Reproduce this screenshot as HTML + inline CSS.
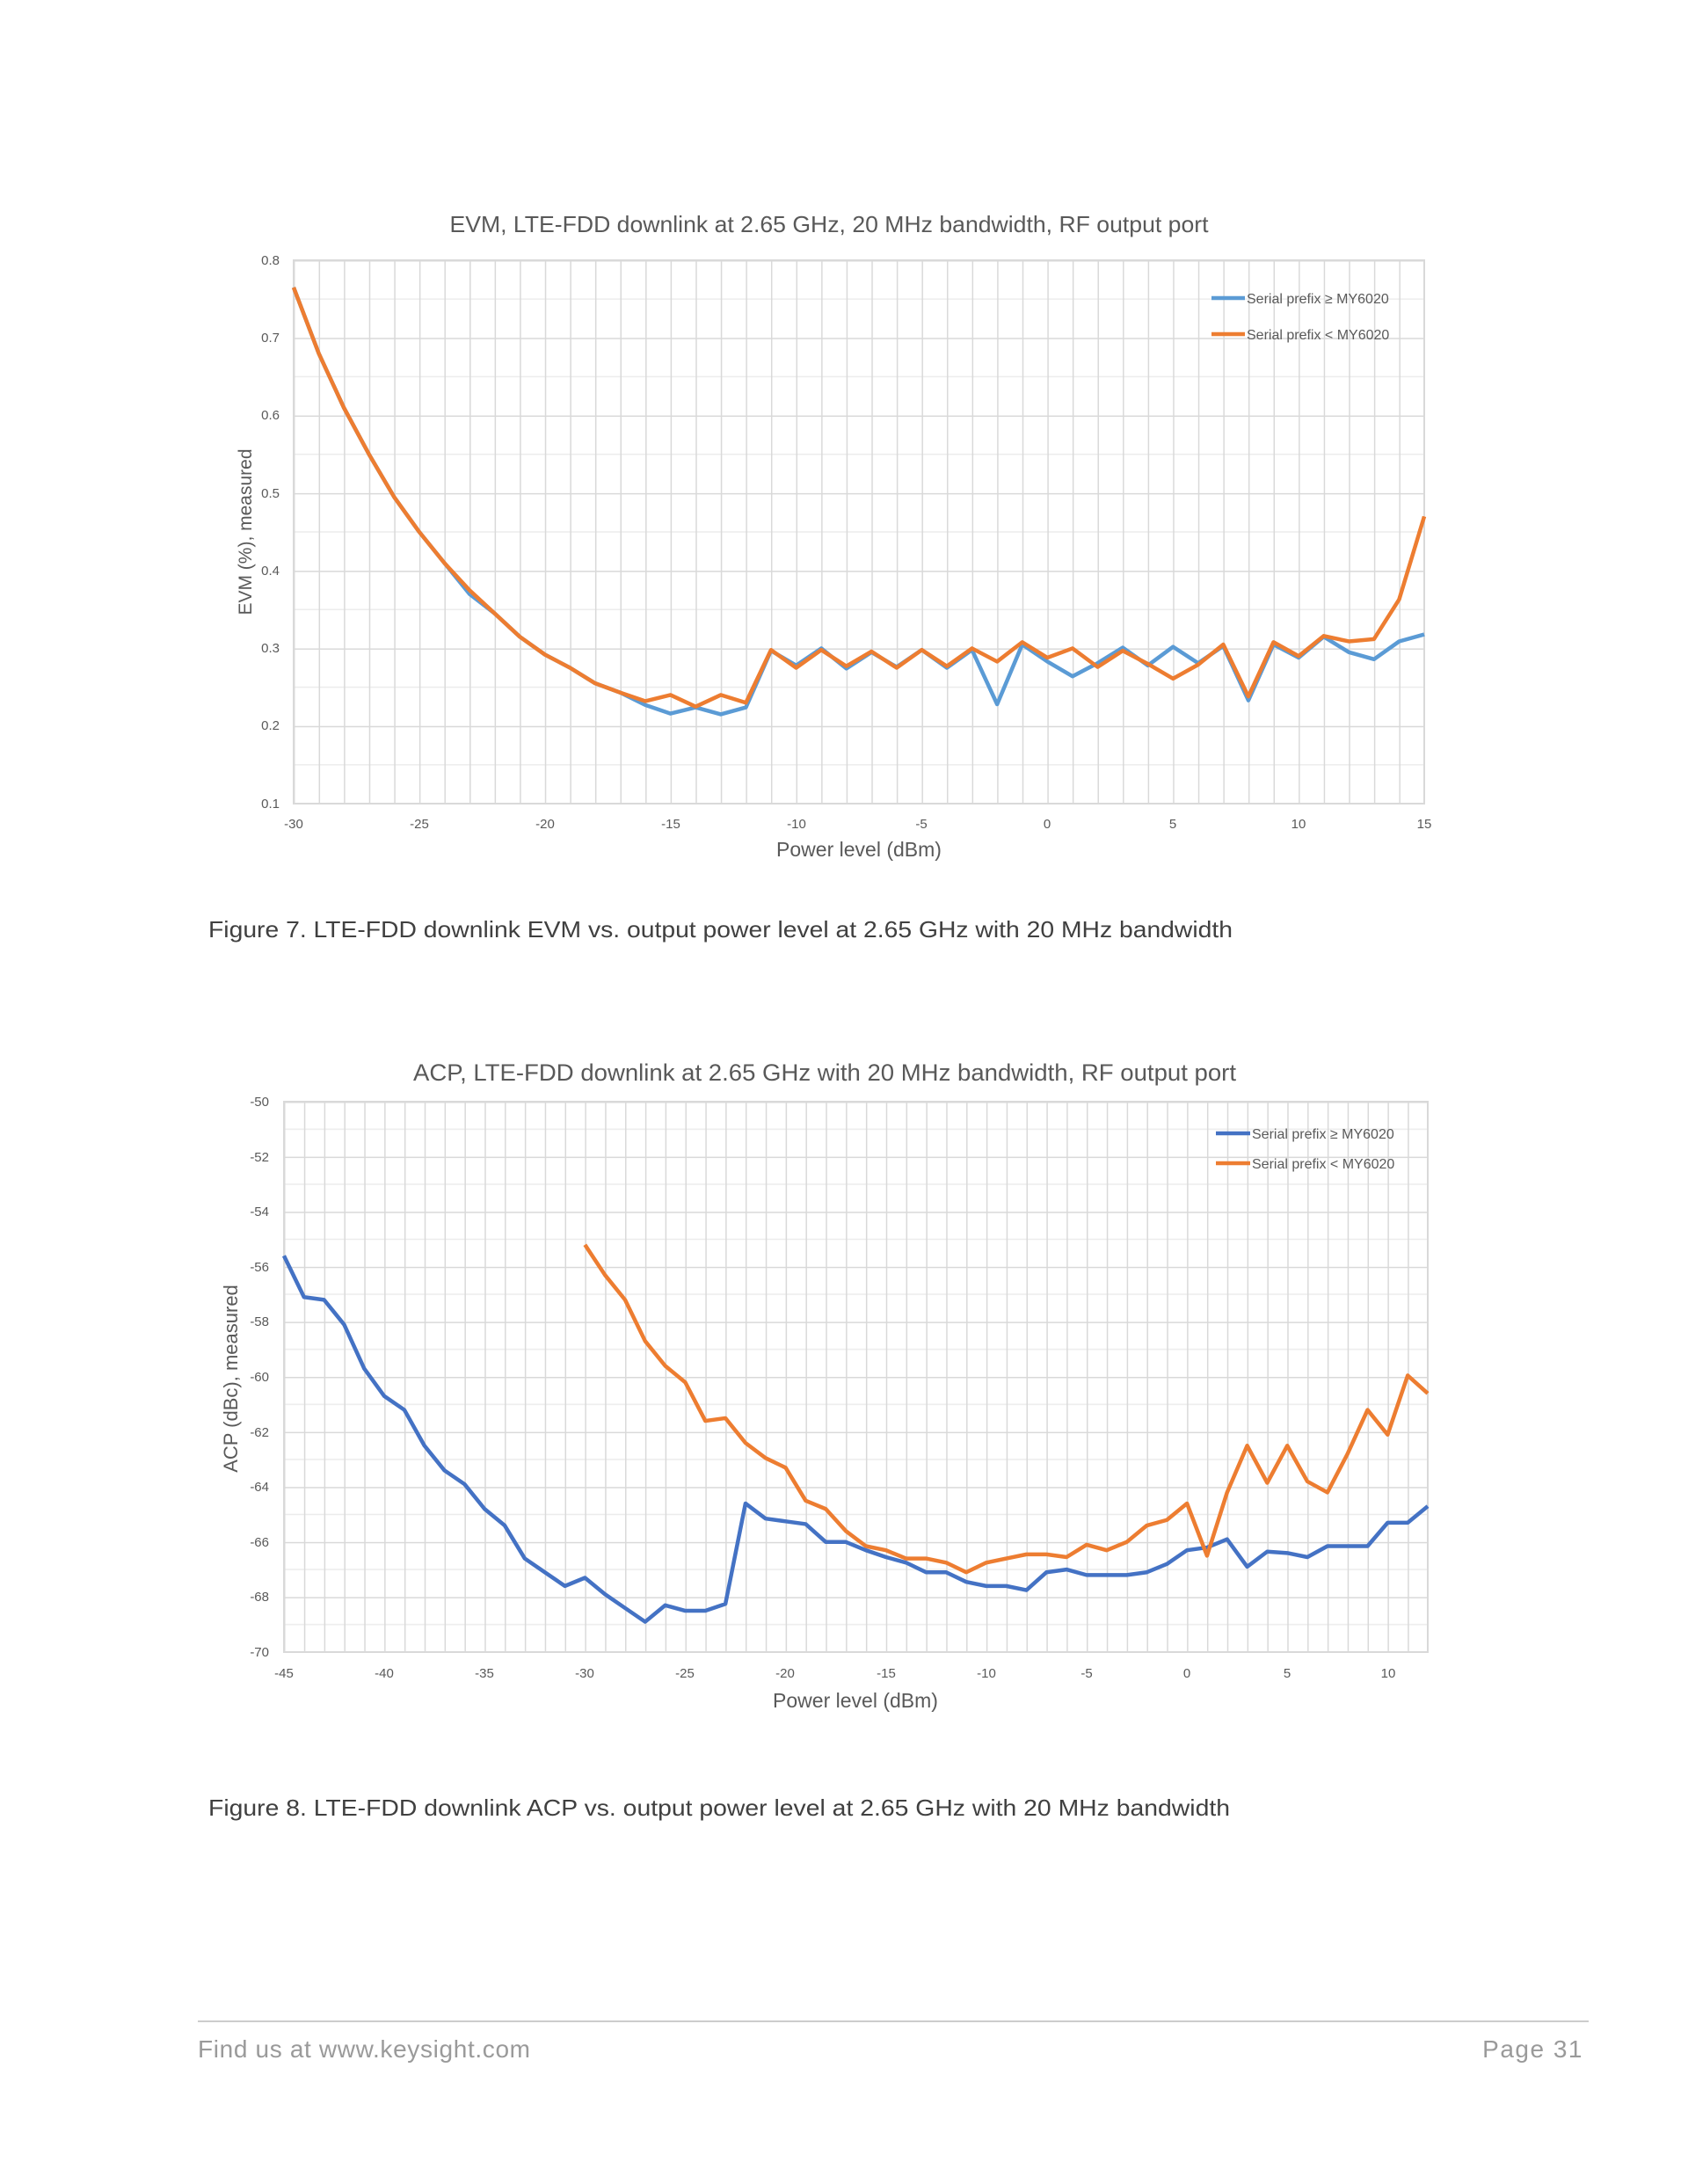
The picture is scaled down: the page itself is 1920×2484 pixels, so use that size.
<!DOCTYPE html>
<html><head><meta charset="utf-8"><style>
html,body{margin:0;padding:0;background:#fff;}
svg{display:block;}
text{font-family:"Liberation Sans",Arial,sans-serif;}
</style></head><body>
<svg width="1920" height="2484" viewBox="0 0 1920 2484" xmlns="http://www.w3.org/2000/svg">
<defs>
<pattern id="g1" patternUnits="userSpaceOnUse" x="334" y="296" width="28.578" height="88.286">
<line x1="0" y1="44.143" x2="28.578" y2="44.143" stroke="#ececec" stroke-width="1.5"/>
<line x1="0" y1="0" x2="28.578" y2="0" stroke="#d9d9d9" stroke-width="3"/>
<line x1="0" y1="0" x2="0" y2="88.286" stroke="#d9d9d9" stroke-width="3"/>
</pattern>
<pattern id="g2" patternUnits="userSpaceOnUse" x="323" y="1253" width="22.825" height="62.6">
<line x1="0" y1="31.3" x2="22.825" y2="31.3" stroke="#ececec" stroke-width="1.5"/>
<line x1="0" y1="0" x2="22.825" y2="0" stroke="#d9d9d9" stroke-width="3"/>
<line x1="0" y1="0" x2="0" y2="62.6" stroke="#d9d9d9" stroke-width="3"/>
</pattern>
</defs>

<!-- EVM chart -->
<text x="943" y="264" font-size="26" fill="#595959" text-anchor="middle" textLength="863" lengthAdjust="spacingAndGlyphs">EVM, LTE-FDD downlink at 2.65 GHz, 20 MHz bandwidth, RF output port</text>
<rect x="334" y="296" width="1286" height="618" fill="url(#g1)" stroke="#d9d9d9" stroke-width="2"/>
<g font-size="15" fill="#595959" text-anchor="end">
<text x="318" y="301">0.8</text><text x="318" y="389">0.7</text><text x="318" y="477">0.6</text><text x="318" y="566">0.5</text><text x="318" y="654">0.4</text><text x="318" y="742">0.3</text><text x="318" y="830">0.2</text><text x="318" y="919">0.1</text>
</g>
<g font-size="15" fill="#595959" text-anchor="middle">
<text x="334" y="942">-30</text><text x="477" y="942">-25</text><text x="620" y="942">-20</text><text x="763" y="942">-15</text><text x="906" y="942">-10</text><text x="1048" y="942">-5</text><text x="1191" y="942">0</text><text x="1334" y="942">5</text><text x="1477" y="942">10</text><text x="1620" y="942">15</text>
</g>
<text x="977" y="974" font-size="23" fill="#595959" text-anchor="middle">Power level (dBm)</text>
<text transform="translate(286,605) rotate(-90)" font-size="21" fill="#595959" text-anchor="middle">EVM (%), measured</text>
<g transform="matrix(28.578,0,0,-882.857,1191.34,1002.29)" fill="none" stroke-linejoin="round">
<polyline vector-effect="non-scaling-stroke" stroke="#5b9bd5" stroke-width="4.5" points="-30,0.765 -29,0.68 -28,0.61 -27,0.55 -26,0.495 -25,0.45 -24,0.41 -23,0.37 -22,0.345 -21,0.315 -20,0.292 -19,0.275 -18,0.255 -17,0.243 -16,0.227 -15,0.216 -14,0.224 -13,0.215 -12,0.224 -11,0.297 -10,0.278 -9,0.3 -8,0.274 -7,0.295 -6,0.276 -5,0.298 -4,0.275 -3,0.298 -2,0.228 -1,0.305 0,0.283 1,0.264 2,0.281 3,0.301 4,0.278 5,0.302 6,0.281 7,0.303 8,0.233 9,0.305 10,0.288 11,0.315 12,0.295 13,0.286 14,0.309 15,0.318"/>
<polyline vector-effect="non-scaling-stroke" stroke="#ed7d31" stroke-width="4.5" points="-30,0.765 -29,0.68 -28,0.61 -27,0.55 -26,0.495 -25,0.45 -24,0.41 -23,0.375 -22,0.345 -21,0.315 -20,0.292 -19,0.275 -18,0.255 -17,0.243 -16,0.232 -15,0.24 -14,0.225 -13,0.24 -12,0.23 -11,0.298 -10,0.275 -9,0.298 -8,0.277 -7,0.296 -6,0.275 -5,0.298 -4,0.277 -3,0.3 -2,0.283 -1,0.308 0,0.288 1,0.3 2,0.276 3,0.297 4,0.28 5,0.261 6,0.279 7,0.305 8,0.238 9,0.308 10,0.29 11,0.316 12,0.309 13,0.312 14,0.363 15,0.47"/>
</g>
<line x1="1378" y1="339" x2="1416" y2="339" stroke="#5b9bd5" stroke-width="4.5"/>
<line x1="1378" y1="380" x2="1416" y2="380" stroke="#ed7d31" stroke-width="4.5"/>
<text x="1418" y="345" font-size="16" fill="#595959">Serial prefix ≥ MY6020</text>
<text x="1418" y="386" font-size="16" fill="#595959">Serial prefix &lt; MY6020</text>

<text x="237" y="1066" font-size="26" fill="#404040" textLength="1165" lengthAdjust="spacingAndGlyphs">Figure 7. LTE-FDD downlink EVM vs. output power level at 2.65 GHz with 20 MHz bandwidth</text>

<!-- ACP chart -->
<text x="938" y="1229" font-size="27" fill="#595959" text-anchor="middle" textLength="936" lengthAdjust="spacingAndGlyphs">ACP, LTE-FDD downlink at 2.65 GHz with 20 MHz bandwidth, RF output port</text>
<rect x="323" y="1253" width="1301" height="626" fill="url(#g2)" stroke="#d9d9d9" stroke-width="2"/>
<g font-size="15" fill="#595959" text-anchor="end">
<text x="306" y="1258">-50</text><text x="306" y="1321">-52</text><text x="306" y="1383">-54</text><text x="306" y="1446">-56</text><text x="306" y="1508">-58</text><text x="306" y="1571">-60</text><text x="306" y="1634">-62</text><text x="306" y="1696">-64</text><text x="306" y="1759">-66</text><text x="306" y="1821">-68</text><text x="306" y="1884">-70</text>
</g>
<g font-size="15" fill="#595959" text-anchor="middle">
<text x="323" y="1908">-45</text><text x="437" y="1908">-40</text><text x="551" y="1908">-35</text><text x="665" y="1908">-30</text><text x="779" y="1908">-25</text><text x="893" y="1908">-20</text><text x="1008" y="1908">-15</text><text x="1122" y="1908">-10</text><text x="1236" y="1908">-5</text><text x="1350" y="1908">0</text><text x="1464" y="1908">5</text><text x="1579" y="1908">10</text>
</g>
<text x="973" y="1942" font-size="23" fill="#595959" text-anchor="middle">Power level (dBm)</text>
<text transform="translate(270,1568) rotate(-90)" font-size="22" fill="#595959" text-anchor="middle">ACP (dBc), measured</text>
<g transform="matrix(22.825,0,0,-31.3,1350.1,-312)" fill="none" stroke-linejoin="round">
<polyline vector-effect="non-scaling-stroke" stroke="#4472c4" stroke-width="4.5" points="-45,-55.6 -44,-57.1 -43,-57.2 -42,-58.1 -41,-59.7 -40,-60.7 -39,-61.2 -38,-62.5 -37,-63.4 -36,-63.9 -35,-64.8 -34,-65.4 -33,-66.6 -32,-67.1 -31,-67.6 -30,-67.3 -29,-67.9 -28,-68.4 -27,-68.9 -26,-68.3 -25,-68.5 -24,-68.5 -23,-68.25 -22,-64.6 -21,-65.15 -20,-65.25 -19,-65.35 -18,-66.0 -17,-66.0 -16,-66.3 -15,-66.55 -14,-66.75 -13,-67.1 -12,-67.1 -11,-67.45 -10,-67.6 -9,-67.6 -8,-67.75 -7,-67.1 -6,-67.0 -5,-67.2 -4,-67.2 -3,-67.2 -2,-67.1 -1,-66.8 0,-66.3 1,-66.2 2,-65.9 3,-66.9 4,-66.35 5,-66.4 6,-66.55 7,-66.15 8,-66.15 9,-66.15 10,-65.3 11,-65.3 12,-64.7"/>
<polyline vector-effect="non-scaling-stroke" stroke="#ed7d31" stroke-width="4.5" points="-30,-55.2 -29,-56.3 -28,-57.2 -27,-58.7 -26,-59.6 -25,-60.2 -24,-61.6 -23,-61.5 -22,-62.4 -21,-62.95 -20,-63.3 -19,-64.5 -18,-64.8 -17,-65.6 -16,-66.15 -15,-66.3 -14,-66.6 -13,-66.6 -12,-66.75 -11,-67.1 -10,-66.75 -9,-66.6 -8,-66.45 -7,-66.45 -6,-66.55 -5,-66.1 -4,-66.3 -3,-66.0 -2,-65.4 -1,-65.2 0,-64.6 1,-66.5 2,-64.2 3,-62.5 4,-63.85 5,-62.5 6,-63.8 7,-64.2 8,-62.8 9,-61.2 10,-62.1 11,-59.95 12,-60.6"/>
</g>
<line x1="1383" y1="1289" x2="1422" y2="1289" stroke="#4472c4" stroke-width="4.5"/>
<line x1="1383" y1="1323" x2="1422" y2="1323" stroke="#ed7d31" stroke-width="4.5"/>
<text x="1424" y="1295" font-size="16" fill="#595959">Serial prefix ≥ MY6020</text>
<text x="1424" y="1329" font-size="16" fill="#595959">Serial prefix &lt; MY6020</text>

<text x="237" y="2065" font-size="26" fill="#404040" textLength="1162" lengthAdjust="spacingAndGlyphs">Figure 8. LTE-FDD downlink ACP vs. output power level at 2.65 GHz with 20 MHz bandwidth</text>

<!-- Footer -->
<line x1="225" y1="2299" x2="1807" y2="2299" stroke="#cccccc" stroke-width="2"/>
<text x="225" y="2340" font-size="28" fill="#9a9a9a" textLength="378" lengthAdjust="spacing">Find us at www.keysight.com</text>
<text x="1801" y="2340" font-size="28" fill="#9a9a9a" text-anchor="end" letter-spacing="1.5">Page 31</text>
</svg>
</body></html>
